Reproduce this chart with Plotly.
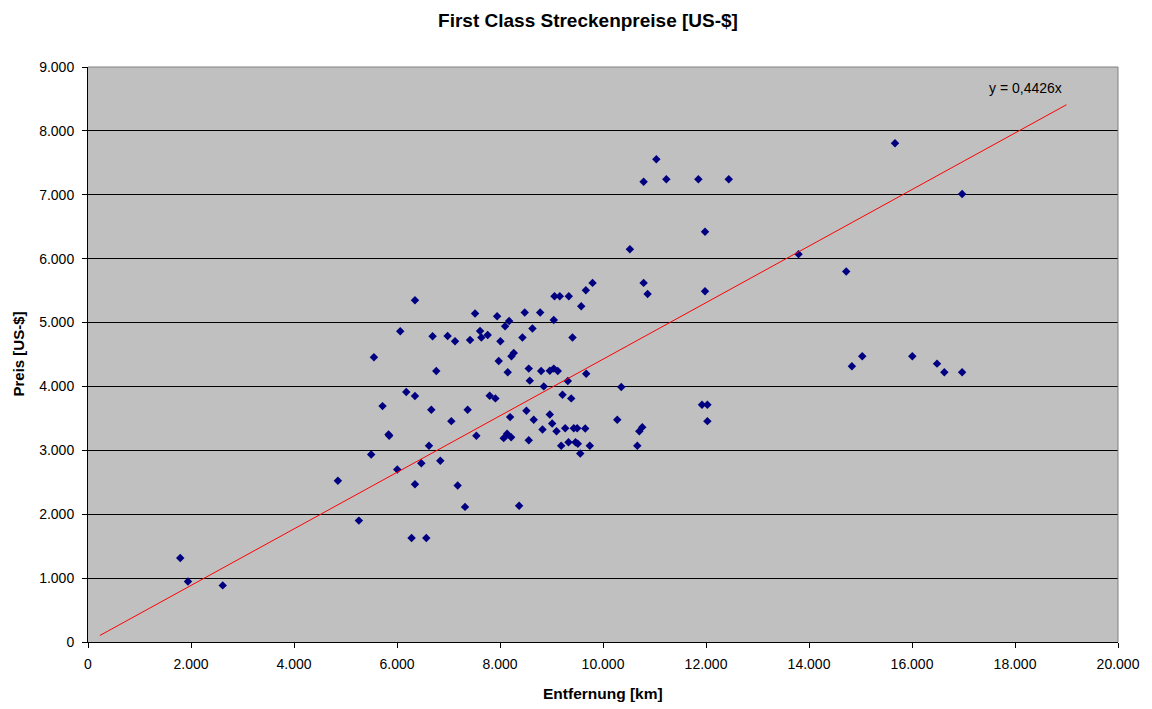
import plotly.graph_objects as go

# Distance [km] and price [US-$]
entfernung = [1791, 1941, 2616, 4852, 5260, 5499, 5552, 5719, 5836, 5849,
              6005, 6063, 6180, 6283, 6349, 6349, 6349, 6472, 6569, 6621,
              6666, 6691, 6763, 6841, 6983, 7055, 7127, 7178, 7321, 7372,
              7419, 7516, 7541, 7613, 7638, 7761, 7800, 7911, 7944, 7975,
              8008, 8072, 8099, 8138, 8150, 8177, 8197, 8216, 8222, 8267,
              8371, 8436, 8480, 8513, 8558, 8558, 8578, 8630, 8655, 8780,
              8799, 8825, 8850, 8967, 8967, 9013, 9044, 9044, 9058, 9097,
              9122, 9161, 9188, 9214, 9266, 9317, 9330, 9336, 9383, 9408,
              9433, 9466, 9499, 9511, 9558, 9577, 9655, 9667, 9674, 9744,
              9797, 10277, 10355, 10522, 10666, 10705, 10763, 10789, 10789, 10866,
              11036, 11230, 11852, 11922, 11981, 11981, 12027, 12027, 12442, 13797,
              14723, 14833, 15034, 15670, 16006, 16486, 16628, 16973, 16973]
preis = [1315, 948, 886, 2523, 1900, 2935, 4456, 3692, 3249, 3228,
         2700, 4864, 3912, 1629, 2469, 3849, 5350, 2799, 1629, 3071,
         3636, 4785, 4241, 2836, 4790, 3457, 4707, 2449, 2115, 3636,
         4727, 5141, 3228, 4868, 4765, 4806, 3855, 3813, 5099, 4398,
         4707, 3191, 4942, 3260, 4221, 5025, 3520, 3206, 4472, 4523,
         2131, 4765, 5157, 3620, 4279, 3159, 4091, 4906, 3479, 5157,
         4241, 3327, 4001, 4247, 3562, 3421, 5041, 4279, 5412, 3300,
         4241, 5412, 3071, 3871, 3347, 4084, 3128, 5412, 3813, 4765,
         3347, 3128, 3347, 3103, 2951, 5256, 3343, 5506, 4200, 3071,
         5621, 3479, 3990, 6149, 3071, 3300, 3363, 5621, 7205, 5448,
         7556, 7242, 7242, 3714, 6421, 5491, 3714, 3457, 7242, 6071,
         5800, 4315, 4472, 7807, 4472, 4357, 4221, 7012, 4221]

slope = 0.4426
trend_x = [230, 19000]
trend_y = [slope * v for v in trend_x]

x_ticks = [0, 2000, 4000, 6000, 8000, 10000, 12000, 14000, 16000, 18000, 20000]
x_labels = ["0", "2.000", "4.000", "6.000", "8.000", "10.000", "12.000",
            "14.000", "16.000", "18.000", "20.000"]
y_ticks = [0, 1000, 2000, 3000, 4000, 5000, 6000, 7000, 8000, 9000]
y_labels = ["0", "1.000", "2.000", "3.000", "4.000", "5.000", "6.000",
            "7.000", "8.000", "9.000"]

FONT = "Arial, 'Liberation Sans', sans-serif"
TICK_SIZE = 14

fig = go.Figure()
fig.add_trace(go.Scatter(
    x=entfernung, y=preis, mode="markers",
    marker=dict(symbol="diamond", size=6.5, color="#000080",
                line=dict(width=0)),
    showlegend=False, hoverinfo="x+y"))
fig.add_trace(go.Scatter(
    x=trend_x, y=trend_y, mode="lines",
    line=dict(color="#FF0000", width=1), showlegend=False, hoverinfo="skip"))

fig.add_annotation(x=18200, y=8674, xref="x", yref="y", text="y = 0,4426x",
                   showarrow=False, font=dict(family=FONT, size=14, color="black"))

# axis titles
fig.add_annotation(x=0, y=0.5, xref="paper", yref="paper", text="<b>Preis [US-$]</b>",
                   textangle=-90, showarrow=False, xanchor="center", yanchor="middle",
                   xshift=-70, font=dict(family=FONT, size=15, color="black"))
fig.add_annotation(x=0.5, y=0, xref="paper", yref="paper", text="<b>Entfernung [km]</b>",
                   showarrow=False, xanchor="center", yanchor="middle",
                   yshift=-51, font=dict(family=FONT, size=15.5, color="black"))

fig.update_layout(
    width=1144, height=701,
    margin=dict(l=80, r=27, t=59, b=67, pad=0),
    paper_bgcolor="white", plot_bgcolor="#C0C0C0",
    font=dict(family=FONT, size=TICK_SIZE, color="black"),
    title=dict(text="<b>First Class Streckenpreise [US-$]</b>",
               x=0.507, xanchor="center", y=1 - 12.5 / 701, yanchor="middle",
               font=dict(family=FONT, size=19, color="black")),
    xaxis=dict(range=[0, 20000], tickvals=x_ticks, ticktext=x_labels,
               showgrid=False, zeroline=False, showline=True,
               linecolor="black", linewidth=1, ticks="outside", ticklen=5,
               tickcolor="black", tickfont=dict(size=TICK_SIZE),
               ticklabelstandoff=4),
    yaxis=dict(range=[0, 9000], tickvals=y_ticks, ticktext=y_labels,
               showgrid=True, gridcolor="black", gridwidth=1, zeroline=False,
               showline=True, linecolor="black", linewidth=1, ticks="outside",
               ticklen=5, tickcolor="black", tickfont=dict(size=TICK_SIZE),
               ticklabelstandoff=5),
)

# gray border on top and right of plot area
fig.add_shape(type="line", xref="paper", yref="paper", x0=0, x1=1, y0=1, y1=1,
              line=dict(color="#808080", width=1))
fig.add_shape(type="line", xref="paper", yref="paper", x0=1, x1=1, y0=0, y1=1,
              line=dict(color="#808080", width=1))

fig.write_html("out.html")
